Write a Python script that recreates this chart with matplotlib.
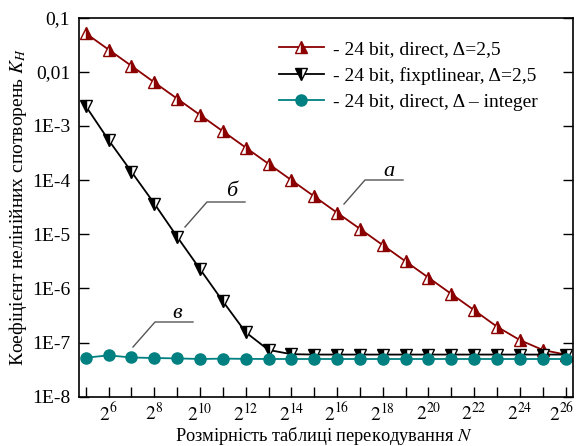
import numpy as np
import matplotlib
matplotlib.use("Agg")
import matplotlib.pyplot as plt
import matplotlib.transforms as mtransforms
from matplotlib.ticker import FixedLocator, NullLocator

plt.rcParams["font.family"] = ["Liberation Serif", "DejaVu Serif"]
plt.rcParams["mathtext.fontset"] = "stix"

# table size exponents: N = 2^k
exponents = list(range(5, 27))

# a) 24 bit, direct, delta = 2.5
kn_direct = [5.15e-2, 2.58e-2, 1.29e-2, 6.4e-3, 3.2e-3, 1.6e-3, 8.0e-4, 4.0e-4,
             2.0e-4, 1.0e-4, 5.0e-5, 2.5e-5, 1.26e-5, 6.3e-6, 3.15e-6, 1.58e-6,
             7.9e-7, 3.95e-7, 1.96e-7, 1.11e-7, 7.3e-8, 6.0e-8]
# b) 24 bit, fixptlinear, delta = 2.5
kn_fixpt = [2.34e-3, 5.5e-4, 1.43e-4, 3.7e-5, 9.0e-6, 2.28e-6, 5.8e-7, 1.55e-7,
            7.3e-8, 6.1e-8, 6.0e-8, 6.0e-8, 6.0e-8, 6.0e-8, 6.0e-8, 6.0e-8,
            6.0e-8, 6.0e-8, 6.0e-8, 6.0e-8, 6.0e-8, 6.0e-8]
# c) 24 bit, direct, integer delta
kn_integer = [5.25e-8, 5.8e-8, 5.3e-8, 5.18e-8, 5.1e-8, 4.97e-8, 5.05e-8, 5.0e-8,
              4.97e-8, 4.97e-8, 4.97e-8, 4.97e-8, 4.97e-8, 4.97e-8, 4.97e-8, 4.97e-8,
              4.97e-8, 4.97e-8, 4.97e-8, 4.97e-8, 4.97e-8, 4.97e-8]

legend_labels = ["- 24 bit, direct, Δ=2,5",
                 "- 24 bit, fixptlinear, Δ=2,5",
                 "- 24 bit, direct, Δ – integer"]
y_ticks = [1e-8, 1e-7, 1e-6, 1e-5, 1e-4, 1e-3, 1e-2, 1e-1]
y_ticklabels = ["1E-8", "1E-7", "1E-6", "1E-5", "1E-4", "1E-3", "0,01", "0,1"]

fig = plt.figure(figsize=(5.76, 4.46), dpi=100)
ax = fig.add_axes([78.5 / 576, 1 - 396.7 / 446, (572.7 - 78.5) / 576, (396.7 - 17.7) / 446])

red = "#8b0000"
teal = "#008080"
ax.plot(exponents, kn_direct, color=red, lw=1.3, marker="^", ms=8,
        fillstyle="right", markerfacecoloralt="white", markeredgecolor=red,
        markeredgewidth=1.0, label=legend_labels[0])
ax.plot(exponents, kn_fixpt, color="black", lw=1.3, marker="v", ms=8,
        fillstyle="left", markerfacecoloralt="white", markeredgecolor="black",
        markeredgewidth=1.0, label=legend_labels[1])
ax.plot(exponents, kn_integer, color=teal, lw=1.3, marker="o", ms=8,
        markeredgecolor=teal, label=legend_labels[2])

ax.set_yscale("log")
ax.set_ylim(1e-8, 1e-1)
ax.set_xlim(4.685, 26.31)

ax.yaxis.set_major_locator(FixedLocator(y_ticks))
ax.yaxis.set_minor_locator(NullLocator())
ax.set_yticklabels(y_ticklabels)
ax.set_xticks(exponents)
ax.set_xticklabels([f"$2^{{{k}}}$" if k % 2 == 0 else "" for k in exponents])

ax.tick_params(axis="both", direction="in", length=7, width=1.0,
               labelsize=14, right=True, top=False)
ax.tick_params(axis="y", pad=6)
ax.tick_params(axis="x", pad=4)
for s in ax.spines.values():
    s.set_linewidth(1.2)

# pull the 2^26 label in a little so it stays inside the figure
last = ax.get_xticklabels()[-1]
last.set_transform(last.get_transform() +
                   mtransforms.ScaledTranslation(-4 / 100, 0, fig.dpi_scale_trans))

ax.set_xlabel("Розмірність таблиці перекодування $\\mathit{N}$", fontsize=13.2)
ax.set_ylabel("Коефіцієнт нелінійних спотворень $\\mathit{K}_{\\mathit{H}}$", fontsize=14)
ax.xaxis.set_label_coords((324 - 78.5) / 494.2, (396.7 - 425) / 379)
ax.yaxis.set_label_coords((29 - 78.5) / 494.2, 0.5)

leg = ax.legend(loc="upper left", bbox_to_anchor=(0.39, 0.96), frameon=False,
                fontsize=14, handlelength=2.3, handletextpad=0.5, labelspacing=0.45,
                borderaxespad=0)

# curve letters with leader lines
gray = "#555555"
to_data = ax.transData.inverted()


def leader(points_px, text, text_px):
    pts = [to_data.transform((x, 446 - y)) for x, y in points_px]
    ax.plot([p[0] for p in pts], [p[1] for p in pts], color=gray, lw=1.0)
    tx, ty = to_data.transform((text_px[0], 446 - text_px[1]))
    ax.text(tx, ty, text, fontsize=16, style="italic", ha="center", va="center")


fig.canvas.draw()
leader([(344, 204), (365, 180), (403, 180)], "а", (389, 171))
leader([(185, 227), (207, 202), (245, 202)], "б", (232, 192))
leader([(133, 347), (155, 322), (193, 322)], "в", (177, 314))

fig.savefig("out.png", dpi=100)
